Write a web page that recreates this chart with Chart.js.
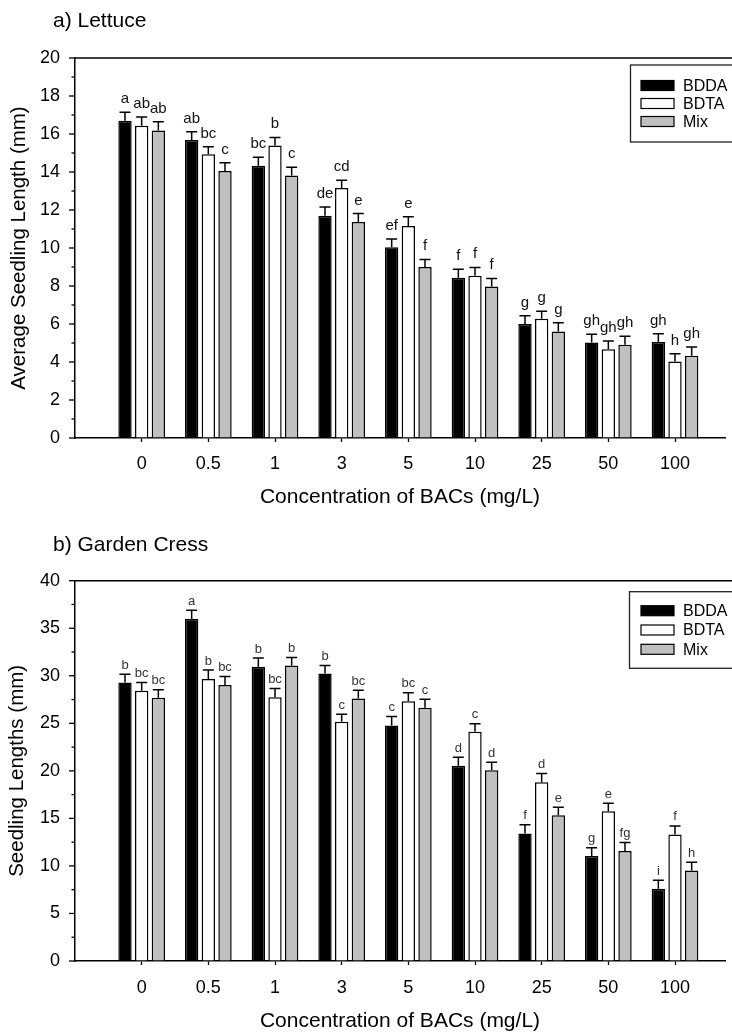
<!DOCTYPE html>
<html><head><meta charset="utf-8">
<script src="https://cdn.jsdelivr.net/npm/chart.js@4.4.1/dist/chart.umd.min.js"></script>
<style>
html,body{margin:0;padding:0;background:#fff;overflow:hidden;width:732px;height:1034px}
.wrap{position:absolute;left:0;width:732px}
canvas{display:block}
</style></head><body>
<div class="wrap" style="top:0;height:515px"><canvas id="c1" width="732" height="515"></canvas></div>
<div class="wrap" style="top:520px;height:514px"><canvas id="c2" width="732" height="514"></canvas></div>
<script>
// ---------- data ----------
const categories = ['0', '0.5', '1', '3', '5', '10', '25', '50', '100'];
const seriesNames = ['BDDA', 'BDTA', 'Mix'];

// a) Lettuce
const lettuceBDDA = [16.7, 15.68, 14.33, 11.7, 10.04, 8.44, 6.0, 5.02, 5.05];
const lettuceBDTA = [16.44, 14.93, 15.39, 13.16, 11.16, 8.54, 6.28, 4.67, 4.02];
const lettuceMix  = [16.19, 14.05, 13.82, 11.37, 9.0, 7.98, 5.61, 4.91, 4.33];
const lettuceErrBDDA = [0.44, 0.44, 0.44, 0.46, 0.43, 0.44, 0.44, 0.44, 0.44];
const lettuceErrBDTA = [0.46, 0.40, 0.43, 0.40, 0.49, 0.44, 0.39, 0.43, 0.42];
const lettuceErrMix  = [0.46, 0.44, 0.43, 0.44, 0.40, 0.42, 0.46, 0.44, 0.46];
const lettuceLetBDDA = ['a', 'ab', 'bc', 'de', 'ef', 'f', 'g', 'gh', 'gh'];
const lettuceLetBDTA = ['ab', 'bc', 'b', 'cd', 'e', 'f', 'g', 'gh', 'h'];
const lettuceLetMix  = ['ab', 'c', 'c', 'e', 'f', 'f', 'g', 'gh', 'gh'];
const lettuceYTicks = [0, 2, 4, 6, 8, 10, 12, 14, 16, 18, 20];

// b) Garden Cress
const cressBDDA = [29.3, 36.0, 30.95, 30.25, 24.77, 20.53, 13.4, 11.05, 7.61];
const cressBDTA = [28.42, 29.65, 27.75, 25.16, 27.33, 24.1, 18.81, 15.75, 13.3];
const cressMix  = [27.68, 29.02, 31.09, 27.61, 26.63, 20.07, 15.33, 11.58, 9.51];
const cressErrBDDA = [0.87, 0.88, 0.91, 0.84, 0.95, 0.91, 0.92, 0.85, 0.88];
const cressErrBDTA = [0.88, 0.95, 0.92, 0.80, 0.88, 0.85, 0.91, 0.85, 0.91];
const cressErrMix  = [0.85, 0.91, 0.84, 0.88, 0.91, 0.84, 0.85, 0.88, 0.88];
const cressLetBDDA = ['b', 'a', 'b', 'b', 'c', 'd', 'f', 'g', 'i'];
const cressLetBDTA = ['bc', 'b', 'bc', 'c', 'bc', 'c', 'd', 'e', 'f'];
const cressLetMix  = ['bc', 'bc', 'b', 'bc', 'c', 'd', 'e', 'fg', 'h'];
const cressYTicks = [0, 5, 10, 15, 20, 25, 30, 35, 40];

const titleA = 'a) Lettuce';
const titleB = 'b) Garden Cress';
const xTitle = 'Concentration of BACs (mg/L)';
const yTitleA = 'Average Seedling Length (mm)';
const yTitleB = 'Seedling Lengths (mm)';

// ---------- styles ----------
const FONT = "'Liberation Sans', Arial, sans-serif";
const seriesColors = ['#000000', '#ffffff', '#c0c0c0'];

function buildChart(canvasId, cfg) {
  const series = cfg.series;
  const datasets = series.map((vals, i) => ({
    label: seriesNames[i],
    data: vals.map((v, j) => ({ x: j, y: v })),
    backgroundColor: seriesColors[i],
    borderColor: '#000',
    borderWidth: 1.5,
    borderSkipped: 'start',
    categoryPercentage: 0.75,
    barPercentage: 0.8
  }));

  const frame = {
    id: 'frame',
    afterDraw(chart) {
      const { ctx, chartArea: a } = chart;
      ctx.save();
      ctx.strokeStyle = '#000';
      ctx.lineWidth = 1.5;
      ctx.beginPath();
      ctx.moveTo(a.left, a.top);
      ctx.lineTo(chart.width + 5, a.top);
      ctx.stroke();
      // y ticks (major + minor)
      const ys = chart.scales.y;
      ys.ticks.forEach(t => {
        const major = cfg.yMajor.includes(t.value);
        const len = major ? 6 : 3.5;
        const py = ys.getPixelForValue(t.value);
        ctx.lineWidth = 1.3;
        ctx.beginPath();
        ctx.moveTo(a.left - len, py);
        ctx.lineTo(a.left, py);
        ctx.stroke();
      });
      // panel title
      ctx.fillStyle = '#000';
      ctx.font = '21px ' + FONT;
      ctx.textAlign = 'left';
      ctx.textBaseline = 'middle';
      ctx.fillText(cfg.title, cfg.titlePos[0], cfg.titlePos[1]);
      // legend
      const L = cfg.legend;
      ctx.lineWidth = 1.3;
      ctx.strokeStyle = '#222';
      ctx.strokeRect(L.x, L.y, L.w, L.h);
      ctx.font = '16px ' + FONT;
      seriesNames.forEach((name, i) => {
        const cy = L.firstRow + i * L.rowGap;
        ctx.fillStyle = seriesColors[i];
        ctx.fillRect(L.sx, cy - 5, 33, 10);
        ctx.lineWidth = 1.2;
        ctx.strokeStyle = '#000';
        ctx.strokeRect(L.sx, cy - 5, 33, 10);
        ctx.fillStyle = '#000';
        ctx.fillText(name, L.tx, cy + 1);
      });
      ctx.restore();
    },
    afterDatasetsDraw(chart) {
      const { ctx } = chart;
      const ys = chart.scales.y;
      ctx.save();
      ctx.strokeStyle = '#000';
      ctx.lineWidth = 1.5;
      chart.data.datasets.forEach((ds, i) => {
        const meta = chart.getDatasetMeta(i);
        meta.data.forEach((el, j) => {
          const v = series[i][j];
          const top = ys.getPixelForValue(v + cfg.errors[i][j]);
          ctx.beginPath();
          ctx.moveTo(el.x, el.y);
          ctx.lineTo(el.x, top);
          ctx.moveTo(el.x - 5.5, top);
          ctx.lineTo(el.x + 5.5, top);
          ctx.stroke();
          ctx.fillStyle = cfg.letterColor;
          ctx.font = cfg.letterSize + 'px ' + FONT;
          ctx.textAlign = 'center';
          ctx.textBaseline = 'alphabetic';
          ctx.fillText(cfg.letters[i][j], el.x, top - cfg.letterGap);
        });
      });
      ctx.restore();
    }
  };

  return new Chart(document.getElementById(canvasId), {
    type: 'bar',
    data: { datasets },
    options: {
      responsive: false,
      animation: false,
      devicePixelRatio: 1,
      layout: { padding: { top: cfg.top, right: 7, left: 0, bottom: 0 } },
      plugins: { legend: { display: false }, tooltip: { enabled: false } },
      scales: {
        x: {
          type: 'linear',
          min: -1,
          max: 8.75,
          offset: false,
          afterBuildTicks: s => { s.ticks = categories.map((_, i) => ({ value: i })); },
          afterFit: s => { s.height = cfg.xHeight; },
          ticks: {
            callback: v => categories[v],
            autoSkip: false, maxRotation: 0,
            padding: cfg.xTickPad,
            color: '#000',
            font: { family: FONT, size: 18 }
          },
          grid: { drawOnChartArea: false, drawTicks: true, tickLength: 4, tickWidth: 1.3, tickColor: '#000', offset: false },
          border: { display: true, color: '#000', width: 1.5 },
          title: { display: true, text: xTitle, color: '#000', font: { family: FONT, size: 21 }, padding: { top: 0, bottom: cfg.xTitlePad } }
        },
        y: {
          min: 0,
          max: cfg.yMax,
          afterFit: s => { s.width = 75; },
          ticks: {
            stepSize: cfg.yStep,
            autoSkip: false,
            callback: v => cfg.yMajor.includes(v) ? String(v) : '',
            padding: 15,
            color: '#000',
            font: { family: FONT, size: 18 }
          },
          grid: { display: true, drawOnChartArea: false, drawTicks: false },
          border: { display: true, color: '#000', width: 1.5 },
          title: { display: true, text: cfg.yTitle, color: '#000', font: { family: FONT, size: 20.5 }, padding: { top: cfg.yTitlePad, bottom: 0 } }
        }
      }
    },
    plugins: [frame]
  });
}

buildChart('c1', {
  series: [lettuceBDDA, lettuceBDTA, lettuceMix],
  errors: [lettuceErrBDDA, lettuceErrBDTA, lettuceErrMix],
  letters: [lettuceLetBDDA, lettuceLetBDTA, lettuceLetMix],
  yMajor: lettuceYTicks, yMax: 20, yStep: 1,
  top: 58, xHeight: 77, xTickPad: 11, xTitlePad: 5,
  yTitle: yTitleA, yTitlePad: 7.5,
  title: titleA, titlePos: [53, 21.7],
  letterSize: 15, letterGap: 9, letterColor: '#111',
  legend: { x: 630.5, y: 65, w: 115, h: 77, sx: 641, tx: 683, firstRow: 85.5, rowGap: 18 }
});

buildChart('c2', {
  series: [cressBDDA, cressBDTA, cressMix],
  errors: [cressErrBDDA, cressErrBDTA, cressErrMix],
  letters: [cressLetBDDA, cressLetBDTA, cressLetMix],
  yMajor: cressYTicks, yMax: 40, yStep: 2.5,
  top: 60.7, xHeight: 73, xTickPad: 12.5, xTitlePad: 0,
  yTitle: yTitleB, yTitlePad: 5.5,
  title: titleB, titlePos: [53, 25],
  letterSize: 13, letterGap: 5.5, letterColor: '#333',
  legend: { x: 629.5, y: 71.7, w: 115, h: 76.6, sx: 641, tx: 683, firstRow: 90.7, rowGap: 19.3 }
});
</script>
</body></html>
